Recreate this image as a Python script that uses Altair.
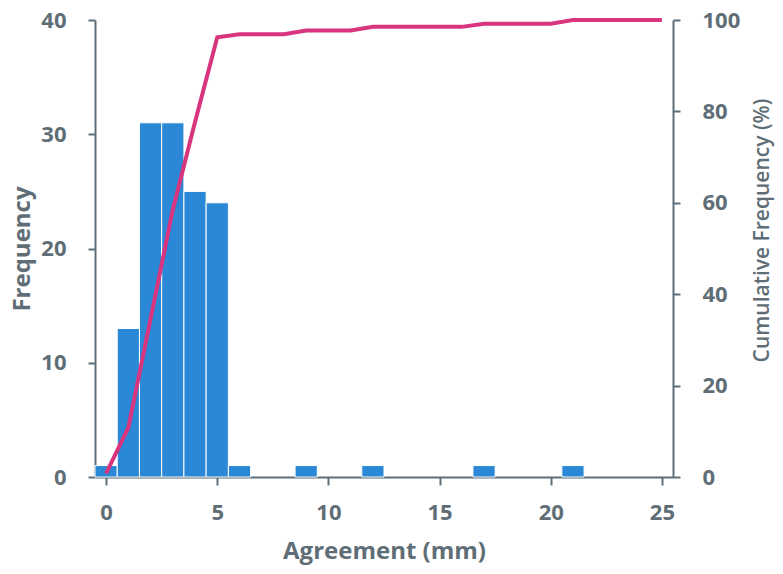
import altair as alt
import pandas as pd

# Histogram bins (mm) and counts
bin_centers = [0, 1, 2, 3, 4, 5, 6, 7, 8, 9, 10, 11, 12, 13, 14, 15, 16, 17, 18, 19, 20, 21, 22, 23, 24, 25]
counts = [1, 13, 31, 31, 25, 24, 1, 0, 0, 1, 0, 0, 1, 0, 0, 0, 0, 1, 0, 0, 0, 1, 0, 0, 0, 0]
# Cumulative frequency (%) at each bin
cum_pct = [0.8, 10.8, 34.6, 58.5, 77.7, 96.2, 96.9, 96.9, 96.9, 97.7, 97.7, 97.7, 98.5, 98.5,
           98.5, 98.5, 98.5, 99.2, 99.2, 99.2, 99.2, 100, 100, 100, 100, 100]
x_ticks = [0, 5, 10, 15, 20, 25]

df = pd.DataFrame({"x": bin_centers, "count": counts, "cum": cum_pct})
df["x0"] = df["x"] - 0.5
df["x1"] = df["x"] + 0.5
bars_df = df[df["count"] > 0]

AX = "#5d6f78"
TXT = "#5f6e76"
FONT = "Open Sans"

xscale = alt.Scale(domain=[-0.5, 25.5], nice=False, zero=False)

bars = alt.Chart(bars_df).mark_bar(color="#2a88d6", stroke="white", strokeWidth=1).encode(
    x=alt.X("x0:Q", scale=xscale,
            axis=alt.Axis(values=x_ticks, title="Agreement (mm)", tickSize=8, labelPadding=17,
                          titlePadding=16, grid=False, titleFontSize=24)),
    x2="x1:Q",
    y=alt.Y("count:Q", scale=alt.Scale(domain=[0, 40], nice=False),
            axis=alt.Axis(values=[0, 10, 20, 30, 40], title="Frequency", orient="left",
                          tickSize=7, labelPadding=22, titlePadding=6, grid=False,
                          titleFontSize=24)),
    y2=alt.datum(0),
)

line = alt.Chart(df).mark_line(color="#d9357f", strokeWidth=4).encode(
    x=alt.X("x:Q", scale=xscale),
    y=alt.Y("cum:Q", scale=alt.Scale(domain=[0, 100], nice=False),
            axis=alt.Axis(values=[0, 20, 40, 60, 80, 100], title="Cumulative Frequency (%)",
                          orient="right", tickSize=7, labelPadding=22, titlePadding=33,
                          titleAngle=270, titleY=210,
                          grid=False, titleFontSize=21, titleFontWeight=600)),
)

chart = alt.layer(bars, line).resolve_scale(y="independent").properties(
    width=578, height=457,
    autosize=alt.AutoSizeParams(type="none"),
    padding={"left": 87, "top": 12, "right": 102, "bottom": 89},
).configure_view(stroke=None).configure_axis(
    domainColor=AX, tickColor=AX, domainWidth=2, tickWidth=2,
    labelFont=FONT, titleFont=FONT, labelFontSize=22, titleFontSize=24,
    labelFontWeight="bold", titleFontWeight="bold",
    labelColor=TXT, titleColor=TXT,
)

chart.save("out.html", embed_options={"renderer": "svg", "actions": False})
